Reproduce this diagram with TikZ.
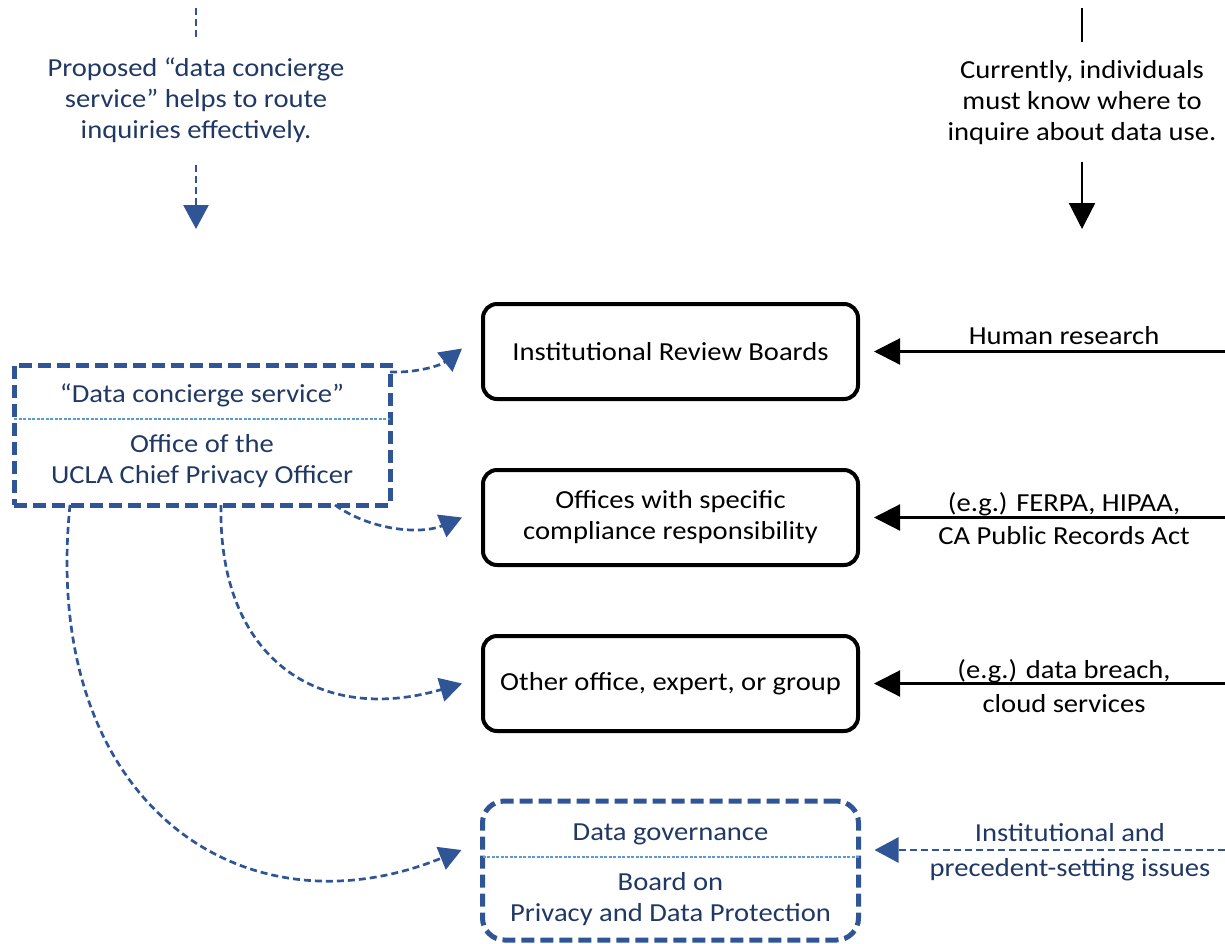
\documentclass[tikz,border=0pt]{standalone}
\usepackage{fontspec}
\setmainfont{Carlito}[FakeStretch=1.1]
\usetikzlibrary{arrows.meta}
\definecolor{navy}{HTML}{203864}
\definecolor{lineblue}{HTML}{2F5597}
\definecolor{lightblue}{HTML}{5B9BD5}
\begin{document}
\begin{tikzpicture}[x=1pt,y=-1pt,
  every node/.style={inner sep=0pt, outer sep=0pt},
  txt/.style={font=\fontsize{26}{31}\selectfont, align=center},
  bluetxt/.style={txt, text=navy},
  blackbox/.style={draw=black, line width=4pt, rounded corners=14pt,
    minimum width=375pt, minimum height=95pt, txt},
  bluebox/.style={draw=lineblue, line width=5pt, dash pattern=on 13pt off 6pt,
    minimum width=376pt},
  divider/.style={draw=lightblue, line width=1.2pt, dash pattern=on 3pt off 1.5pt},
  blackarrow/.style={draw=black, line width=2.2pt, -{Triangle[length=26pt,width=26pt]}},
  blackline/.style={draw=black, line width=2.2pt},
  bluedash/.style={draw=lineblue, line width=2.7pt, dash pattern=on 7pt off 4pt},
  bluearrow/.style={bluedash, -{Triangle[length=24pt,width=25pt]}},
  curvearrow/.style={bluedash, -{Triangle[length=22pt,width=24pt]}},
]
\useasboundingbox (0,0) rectangle (1225,943);

% top left
\coordinate (tl0) at (196,8);
\coordinate (tl1) at (196,38);
\node[bluetxt] (prop) at (196,100) {Proposed “data concierge\\service” helps to route\\inquiries effectively.};
\coordinate (tl2) at (196,165);
\coordinate (tl3) at (196,229);
\draw[bluedash] (tl0) -- (tl1);
\draw[bluearrow] (tl2) -- (tl3);

% top right
\coordinate (tr0) at (1082,8);
\coordinate (tr1) at (1082,42);
\node[txt] (cur) at (1082,103) {Currently, individuals\\must know where to\\inquire about data use.};
\coordinate (tr2) at (1082,162);
\coordinate (tr3) at (1082,229);
\draw[blackline] (tr0) -- (tr1);
\draw[blackarrow] (tr2) -- (tr3);

% right boxes
\node[blackbox] (irb) at (670.5,351.5) {Institutional Review Boards};
\node[blackbox] (off) at (670.5,517.5) {Offices with specific\\compliance responsibility};
\node[blackbox] (oth) at (670.5,683.5) {Other office, expert, or group};
\node[bluebox, rounded corners=22pt, minimum height=139pt] (dg) at (670.5,870.5) {};
\draw[divider] ([yshift=-56pt]dg.north west) -- ([yshift=-56pt]dg.north east);
\node[bluetxt] (dgt) at (670.5,834) {Data governance};
\node[bluetxt] (dgb) at (670.5,899.5) {Board on\\Privacy and Data Protection};

% left box
\node[bluebox, minimum height=140pt] (cps) at (202,435) {};
\draw[divider] ([yshift=-54pt]cps.north west) -- ([yshift=-54pt]cps.north east);
\node[bluetxt] (cpst) at (202,395) {“Data concierge service”};
\node[bluetxt] (cpsb) at (202,461) {Office of the\\UCLA Chief Privacy Officer};

% right incoming arrows
\coordinate (r1) at (1225,351.5);
\coordinate (r2) at (1225,517.5);
\coordinate (r3) at (1225,683.5);
\coordinate (r4) at (1225,850);
\draw[blackarrow, shorten >=16pt] (r1) -- (irb.east);
\draw[blackarrow, shorten >=16pt] (r2) -- (off.east);
\draw[blackarrow, shorten >=16pt] (r3) -- (oth.east);
\draw[bluearrow, shorten >=16pt] (r4) -- (dg.east |- r4);
\node[txt] (l1) at (1064,336) {Human research};
\node[txt] (l2) at (1064,518.5) {(e.g.) FERPA, HIPAA,\\[2pt]CA Public Records Act};
\node[txt] (l3) at (1064,686) {(e.g.) data breach,\\[3pt]cloud services};
\node[bluetxt] (l4) at (1070,852.5) {Institutional and\\[4pt]precedent-setting issues};

% curved arrows from concierge box
\draw[curvearrow] ([yshift=-7pt]cps.north east) .. controls (415,373) and (440,366) .. ([xshift=-21pt,yshift=3pt]irb.west);
\draw[curvearrow] ([xshift=-55pt]cps.south east) .. controls (370,530) and (420,535) .. ([xshift=-21pt]off.west);
\draw[curvearrow] ([xshift=19pt]cps.south) .. controls (218,660) and (320,725) .. ([xshift=-21pt]oth.west);
\draw[curvearrow] ([xshift=56pt]cps.south west) .. controls (40,800) and (240,940) .. ([xshift=-21pt]dg.west |- r4);
\end{tikzpicture}
\end{document}
